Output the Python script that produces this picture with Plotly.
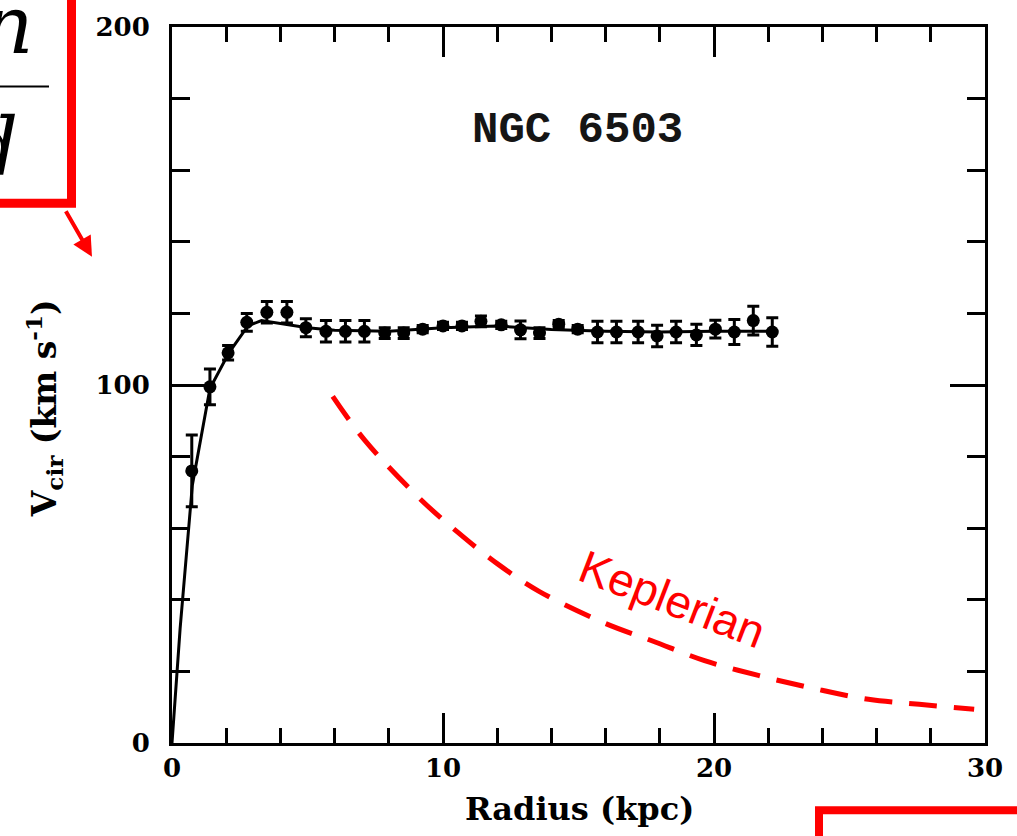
import plotly.graph_objects as go

radius_kpc = [0.73, 1.4, 2.07, 2.76, 3.5, 4.24, 4.94, 5.68, 6.4, 7.1, 7.85, 8.55,
              9.25, 10.0, 10.7, 11.4, 12.15, 12.86, 13.56, 14.27, 14.97, 15.7,
              16.4, 17.2, 17.9, 18.6, 19.35, 20.05, 20.75, 21.45, 22.15]
v_obs = [76, 99.5, 109, 117.5, 120.3, 120.3, 116, 115, 115, 115, 114.5, 114.5,
         115.6, 116.5, 116.5, 117.8, 116.8, 115.4, 114.5, 117, 115.6, 114.8,
         114.8, 114.8, 113.7, 114.8, 114.0, 115.6, 114.8, 118, 114.8]
v_err = [10, 5, 2, 2.5, 3, 3, 2.5, 3, 3, 3, 1.5, 1.5,
         1, 1, 1, 1.5, 1, 2.5, 1.5, 1, 1, 3,
         3, 3, 3, 3, 3, 2.5, 3.5, 4, 4]

# Fitted model curve
model_r = [0, 0.3, 0.75, 1.4, 2.1, 2.8, 3.3, 4.2, 5.0, 6.0, 8.0, 10.0, 12.0,
           14.0, 16.0, 18.0, 20.0, 22.2]
model_v = [0, 32, 72, 99, 109, 116.5, 118, 117, 116, 115.3, 115, 116, 116.5,
           115.5, 115, 114.8, 115, 115]

# Keplerian fall-off sketched in red
kep_r = [5.93, 7.11, 9.14, 10.54, 12.0, 13.56, 15.96, 17.73, 19.65, 21.67,
         23.7, 25.7, 27.57, 29.6]
kep_v = [96.8, 84.6, 68.3, 58.9, 50.1, 42.3, 33.5, 28.5, 23.0, 18.8,
         15.2, 12.2, 10.8, 9.4]

x_ticks = [0, 10, 20, 30]
y_ticks = [0, 100, 200]

W, H = 1017, 836
L, R, T, B = 172, 32, 20, 93
PW, PH = W - L - R, H - T - B


def px(xp):
    return (xp - L) / PW


def py(yp):
    return (H - B - yp) / PH


fig = go.Figure()

fig.add_trace(go.Scatter(
    x=model_r, y=model_v, mode="lines",
    line=dict(color="black", width=3), hoverinfo="skip", showlegend=False))

fig.add_trace(go.Scatter(
    x=radius_kpc, y=v_obs, mode="markers",
    marker=dict(color="black", size=13),
    error_y=dict(type="data", array=v_err, visible=True, color="black",
                 thickness=3, width=6),
    showlegend=False))

fig.add_trace(go.Scatter(
    x=kep_r, y=kep_v, mode="lines", line_shape="spline",
    line=dict(color="#ff0000", width=5, dash="28px,17px"),
    showlegend=False, cliponaxis=False))

axis_common = dict(
    showline=True, linewidth=3, linecolor="black", mirror="ticks",
    ticks="inside", tickwidth=3, tickcolor="black",
    showgrid=False, zeroline=False,
    tickfont=dict(family="DejaVu Serif", size=26, color="black", weight="bold"),
)

fig.update_xaxes(range=[0, 30], tickvals=x_ticks, ticklen=30,
                 minor=dict(dtick=2, ticklen=15, tickwidth=3, ticks="inside",
                            tickcolor="black"),
                 **axis_common)
fig.update_yaxes(range=[0, 200], tickvals=y_ticks, ticklen=35,
                 ticklabelstandoff=14,
                 minor=dict(dtick=20, ticklen=18, tickwidth=3, ticks="inside",
                            tickcolor="black"),
                 **axis_common)


def note(text, xs, ys, size, family, color="black", angle=0, weight="normal"):
    return dict(text=text, x=px(xs), y=py(ys), xref="paper", yref="paper",
                xanchor="center", yanchor="middle", textangle=angle,
                showarrow=False,
                font=dict(family=family, size=size, color=color, weight=weight))


annotations = [
    note("NGC 6503", 577, 124, 44, "Liberation Mono", "#151515", weight="bold"),
    note("Radius (kpc)", 579, 810, 32, "DejaVu Serif", weight="bold"),
    note("V<sub>cir</sub> (km s<sup>-1</sup>)", 44, 405, 33, "DejaVu Serif",
         angle=-90, weight="bold"),
    note("Keplerian", 672, 598, 46, "Liberation Sans", "#ff0000", angle=21),
    # partially visible formula inside the cropped red box
    note("<i>n</i>", 8, 18, 80, "DejaVu Serif"),
    note("<i>d</i>", -8, 142, 80, "DejaVu Serif"),
    # red arrow pointing to the axis label
    dict(text="", x=px(92), y=py(252), xref="paper", yref="paper",
         ax=-27, ay=-47, showarrow=True, arrowhead=2, arrowsize=1,
         arrowwidth=4, arrowcolor="#ff0000"),
]

shapes = [
    dict(type="rect", xref="paper", yref="paper",
         x0=px(-30), x1=px(71.5), y0=py(198), y1=py(-30),
         line=dict(color="#ff0000", width=9)),
    dict(type="line", xref="paper", yref="paper",
         x0=px(-5), x1=px(49), y0=py(80), y1=py(80),
         line=dict(color="black", width=2)),
    dict(type="rect", xref="paper", yref="paper",
         x0=px(819), x1=px(1060), y0=py(880), y1=py(811),
         line=dict(color="#ff0000", width=8)),
]

fig.update_layout(
    width=W, height=H,
    margin=dict(l=L, r=R, t=T, b=B),
    paper_bgcolor="white", plot_bgcolor="white",
    annotations=annotations, shapes=shapes,
    showlegend=False,
)

fig.write_html(
    "out.html",
    config={"displayModeBar": False},
    post_script="document.body.style.margin='0px';"
                "document.body.style.overflow='hidden';",
)
